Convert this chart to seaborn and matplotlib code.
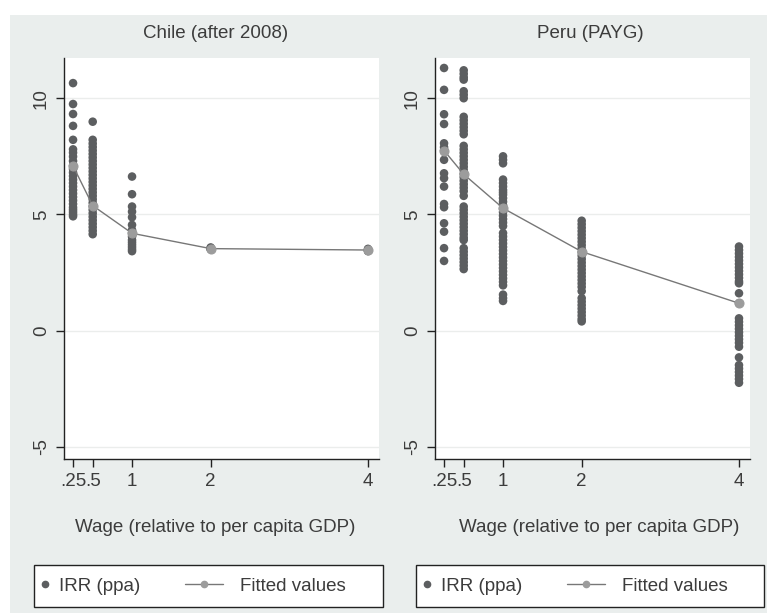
import numpy as np
import pandas as pd
import matplotlib
matplotlib.use("Agg")
import matplotlib.pyplot as plt
import seaborn as sns
from matplotlib.lines import Line2D
from matplotlib.patches import Rectangle

# ---------------- data ----------------
wage_ticks = [0.25, 0.5, 1, 2, 4]
wage_tick_labels = [".25", ".5", "1", "2", "4"]
y_ticks = [-5, 0, 5, 10]
panel_titles = ["Chile (after 2008)", "Peru (PAYG)"]
x_title = "Wage (relative to per capita GDP)"
legend_labels = ["IRR (ppa)", "Fitted values"]

chile_025 = [10.65, 9.75, 9.32, 8.81, 8.21, 7.80, 7.66, 7.49, 7.30, 7.10, 6.95, 6.80,
             6.65, 6.50, 6.35, 6.20, 6.05, 5.90, 5.75, 5.60, 5.45, 5.30, 5.20, 5.10,
             5.00, 4.92]
chile_05 = [8.99, 8.21, 8.05, 7.90, 7.75, 7.60, 7.45, 7.30, 7.15, 7.00, 6.85, 6.70,
            6.55, 6.40, 6.25, 6.10, 5.95, 5.80, 5.65, 5.50, 5.35, 5.20, 5.05, 4.90,
            4.75, 4.60, 4.45, 4.30, 4.15]
chile_1 = [6.63, 5.87, 5.34, 5.12, 4.88, 4.55, 4.33, 4.20, 4.05, 3.90, 3.80, 3.70,
           3.60, 3.50, 3.42]
chile_2 = [3.58, 3.55, 3.52, 3.50]
chile_4 = [3.52, 3.48, 3.45, 3.42]
chile_fitted = [7.09, 5.38, 4.19, 3.53, 3.47]

peru_025 = [11.30, 10.36, 9.31, 8.89, 8.06, 7.89, 7.75, 7.35, 6.77, 6.56, 6.20, 5.45,
            5.31, 4.62, 4.26, 3.55, 3.00]
peru_05 = [11.20, 11.05, 10.90, 10.80, 10.30, 10.15, 10.00, 9.20, 9.05, 8.90, 8.75,
           8.60, 8.45, 7.95, 7.80, 7.65, 7.50, 7.35, 7.20, 7.05, 6.90, 6.75, 6.60,
           6.45, 6.30, 6.15, 6.00, 5.80, 5.34, 5.20, 5.05, 4.90, 4.75, 4.60, 4.45,
           4.30, 4.15, 4.00, 3.90, 3.55, 3.40, 3.25, 3.10, 2.95, 2.80, 2.65]
peru_1 = [7.50, 7.35, 7.20, 6.50, 6.35, 6.20, 6.05, 5.95, 5.85, 5.70, 5.55, 5.40,
          5.25, 5.10, 4.95, 4.80, 4.65, 4.50, 4.20, 4.05, 3.90, 3.75, 3.60, 3.45,
          3.30, 3.15, 3.00, 2.85, 2.70, 2.55, 2.40, 2.25, 2.10, 1.95, 1.55, 1.40, 1.28]
peru_2 = [4.73, 4.58, 4.43, 4.28, 4.13, 3.98, 3.83, 3.68, 3.53, 3.38, 3.23, 3.08,
          2.93, 2.78, 2.63, 2.48, 2.33, 2.18, 2.03, 1.88, 1.70, 1.40, 1.25, 1.10,
          0.95, 0.80, 0.65, 0.50, 0.40]
peru_4 = [3.62, 3.47, 3.32, 3.17, 3.02, 2.87, 2.72, 2.57, 2.42, 2.27, 2.12, 2.04,
          1.61, 1.18, 0.53, 0.38, 0.23, 0.08, -0.07, -0.22, -0.37, -0.52, -0.69,
          -1.15, -1.48, -1.63, -1.78, -1.93, -2.08, -2.24]
peru_fitted = [7.75, 6.73, 5.27, 3.40, 1.18]

chile_cols = [chile_025, chile_05, chile_1, chile_2, chile_4]
peru_cols = [peru_025, peru_05, peru_1, peru_2, peru_4]


def points_frame(cols):
    rows = []
    for w, vals in zip(wage_ticks, cols):
        for v in vals:
            rows.append({"wage": w, "irr": v})
    return pd.DataFrame(rows)


def fit_frame(vals):
    return pd.DataFrame({"wage": wage_ticks, "fit": vals})


panels = [
    (panel_titles[0], points_frame(chile_cols), fit_frame(chile_fitted)),
    (panel_titles[1], points_frame(peru_cols), fit_frame(peru_fitted)),
]

# ---------------- style ----------------
sns.set_theme(style="white")
plt.rcParams["font.family"] = ["Liberation Sans Narrow", "Liberation Sans", "DejaVu Sans"]

BG = "#eaeeed"
DOT = "#5c5e60"
FITM = "#9c9c9c"
LINE = "#777777"
TXT = "#3c3c3c"
GRID = "#ebedec"
FS = 13.5

W, H = 767, 613
fig = plt.figure(figsize=(W / 100, H / 100), dpi=100)
fig.patch.set_facecolor("white")
fig.patches.append(Rectangle((10 / W, 0), (W - 10) / W, 1 - 15 / H,
                             transform=fig.transFigure, facecolor=BG,
                             edgecolor="none", zorder=-10))

ax_left_px = [64, 435]
ax_w_px = 315
top_px, bot_px = 58, 459
title_cx = [216, 590]
xtitle_cx = [215, 599]
legend_boxes = [(34, 383), (416, 764)]
leg_top, leg_bot = 565, 607

for i, (title, pts, fit) in enumerate(panels):
    x0 = ax_left_px[i]
    ax = fig.add_axes([x0 / W, 1 - bot_px / H, ax_w_px / W, (bot_px - top_px) / H])
    ax.set_facecolor("white")

    sns.scatterplot(data=pts, x="wage", y="irr", ax=ax, color=DOT, s=38,
                    edgecolor="none", linewidth=0, legend=False, zorder=3)
    sns.lineplot(data=fit, x="wage", y="fit", ax=ax, color=LINE, lw=1.0,
                 marker="o", markersize=6.5, markerfacecolor=FITM,
                 markeredgecolor=FITM, estimator=None, sort=False,
                 legend=False, zorder=4)

    ax.set_xlim(0.135, 4.14)
    ax.set_ylim(-5.52, 11.73)
    ax.set_xticks(wage_ticks)
    ax.set_xticklabels(wage_tick_labels)
    ax.set_yticks(y_ticks)
    ax.set_yticklabels([str(t) for t in y_ticks], rotation=90, va="center")
    ax.yaxis.grid(True, color=GRID, lw=1.0, zorder=0)
    ax.xaxis.grid(False)
    ax.set_xlabel("")
    ax.set_ylabel("")
    for s in ["top", "right"]:
        ax.spines[s].set_visible(False)
    for s in ["left", "bottom"]:
        ax.spines[s].set_color("#222222")
        ax.spines[s].set_linewidth(1.0)
    ax.tick_params(axis="both", which="major", direction="out", length=6,
                   width=1.0, color="#222222", labelsize=FS, labelcolor=TXT,
                   pad=4, left=True, bottom=True)

    fig.text(title_cx[i] / W, 1 - 33 / H, title, ha="center", va="center",
             fontsize=FS, color=TXT)
    fig.text(xtitle_cx[i] / W, 1 - 527 / H, x_title, ha="center", va="center",
             fontsize=FS, color=TXT)

    # legend box
    bx0, bx1 = legend_boxes[i]
    bw = bx1 - bx0
    ymid = 1 - (leg_top + leg_bot) / 2 / H
    fig.patches.append(Rectangle((bx0 / W, 1 - leg_bot / H), bw / W,
                                 (leg_bot - leg_top) / H,
                                 transform=fig.transFigure, facecolor="white",
                                 edgecolor="#222222", lw=1.0, zorder=5))
    h_irr = Line2D([], [], ls="none", marker="o", markersize=4.5, color=DOT)
    h_fit = Line2D([], [], ls="-", lw=1.0, color=LINE, marker="o", markersize=4.5,
                   markerfacecolor=FITM, markeredgecolor=FITM)
    leg1 = fig.legend([h_irr], [legend_labels[0]], loc="center left",
                      bbox_to_anchor=((bx0 + 3.5) / W, ymid),
                      bbox_transform=fig.transFigure, frameon=False,
                      fontsize=FS, handlelength=0.8, handletextpad=0.35,
                      borderaxespad=0, borderpad=0)
    leg2 = fig.legend([h_fit], [legend_labels[1]], loc="center left",
                      bbox_to_anchor=((bx0 + 151) / W, ymid),
                      bbox_transform=fig.transFigure, frameon=False,
                      fontsize=FS, handlelength=2.03, handletextpad=0.9,
                      borderaxespad=0, borderpad=0)
    for leg in (leg1, leg2):
        for t in leg.get_texts():
            t.set_color(TXT)
        leg.set_zorder(6)

fig.savefig("out.png", dpi=100, facecolor=fig.get_facecolor())
